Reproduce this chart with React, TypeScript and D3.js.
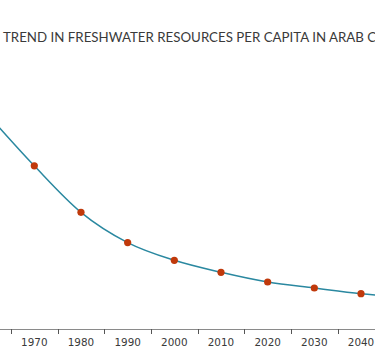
import React from "react";
import * as d3 from "d3";

const title = "TREND IN FRESHWATER RESOURCES PER CAPITA IN ARAB COUNTRIES";
const years = ["1960", "1970", "1980", "1990", "2000", "2010", "2020", "2030", "2040", "2050"];
const values = [3300, 2510, 1795, 1330, 1057, 872, 723, 631, 543, 485];
const tickLabels = ["1970", "1980", "1990", "2000", "2010", "2020", "2030", "2040"];

const W = 375;
const H = 356;

export default function App() {
  const x = d3.scaleBand<string>().domain(years).range([-35.7, -35.7 + 46.67 * years.length]);
  const y = d3.scaleLinear().domain([0, 4000]).range([329, 329 - 4000 * 0.065]);
  const cx = (yr: string) => (x(yr) as number) + x.bandwidth() / 2;
  const line = d3
    .line<number>()
    .x((_, i) => cx(years[i]))
    .y((v) => y(v))
    .curve(d3.curveMonotoneX);
  const edges = years.map((yr) => x(yr) as number);
  return (
    <div style={{ position: "fixed", left: 0, top: 0, width: W, height: H, background: "#fff" }}>
      <svg width={W} height={H} style={{ display: "block" }}>
        <text x={3} y={41.5} fontFamily="Lato" fontSize={13.3} fill="#3a3a3a">
          {title}
        </text>
        <line x1={0} x2={W} y1={329.5} y2={329.5} stroke="#8a8a8a" strokeWidth={1} />
        {edges.map((e, i) => (
          <line key={"t" + i} x1={Math.round(e) + 0.5} x2={Math.round(e) + 0.5} y1={329} y2={334} stroke="#555" strokeWidth={1} />
        ))}
        {tickLabels.map((yr) => (
          <text key={"l" + yr} x={cx(yr)} y={345.5} textAnchor="middle" fontFamily="DejaVu Sans" fontSize={10.4} fill="#3a3a3a">
            {yr}
          </text>
        ))}
        <path d={line(values) || ""} fill="none" stroke="#2a88a0" strokeWidth={1.5} />
        {values.map((v, i) => (
          <circle key={"c" + i} cx={cx(years[i])} cy={y(v)} r={3.6} fill="#c0390b" />
        ))}
      </svg>
    </div>
  );
}
